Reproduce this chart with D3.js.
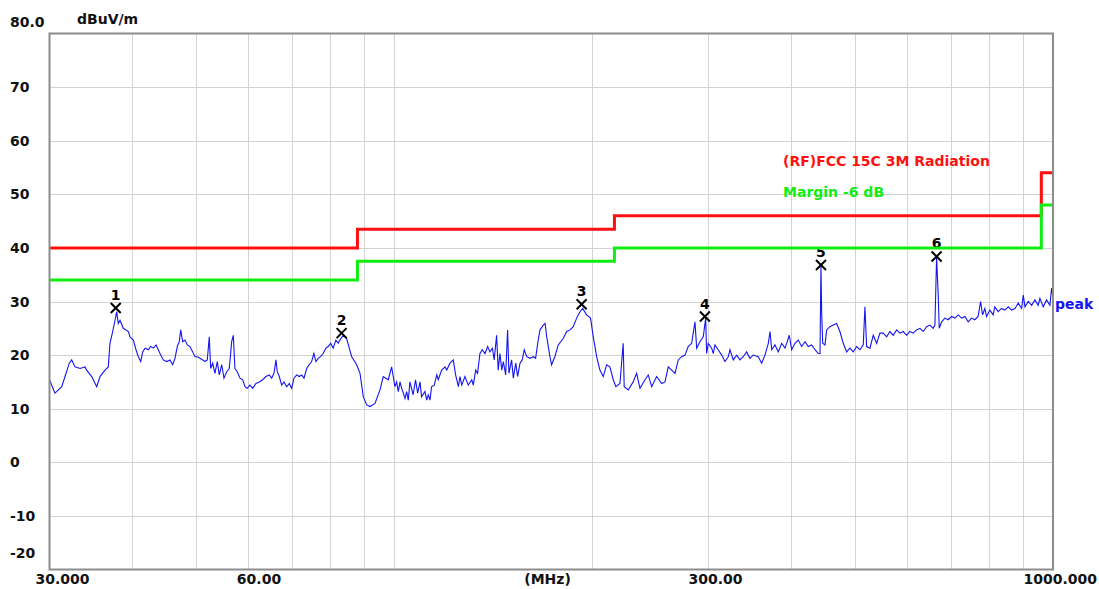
<!DOCTYPE html>
<html>
<head>
<meta charset="utf-8">
<style>
    body { margin: 0; background: #fff; }
    svg text { font-family: "DejaVu Sans", sans-serif; font-weight: bold; font-size: 14px; }
</style>
</head>
<body>
<svg id="chart" width="1099" height="589"></svg>
<script src="https://d3js.org/d3.v7.min.js"></script>
<script>
// peak sweep: frequency (MHz) and level (dBuV/m)
const sweepFreqs = [
    30.00, 30.58, 31.31, 31.67, 32.15, 32.42, 32.80, 33.38, 33.96, 34.16,
    34.77, 35.38, 35.79, 36.42, 36.84, 37.06, 37.41, 37.72, 37.94, 38.15,
    38.38, 38.83, 39.51, 39.75, 40.21, 40.59, 40.92, 41.26, 41.55, 41.89,
    42.38, 42.73, 43.12, 43.53, 43.88, 44.25, 44.65, 45.18, 45.71, 46.14,
    46.51, 46.89, 47.21, 47.45, 47.78, 48.17, 48.56, 49.01, 49.48, 49.88,
    50.28, 50.75, 51.24, 51.65, 52.07, 52.43, 52.69, 53.06, 53.48, 53.92,
    54.30, 54.76, 55.19, 55.72, 56.23, 56.70, 57.02, 57.35, 57.82, 58.37,
    58.92, 59.40, 59.87, 60.44, 61.01, 61.72, 62.44, 63.19, 63.92, 64.66,
    65.21, 65.73, 66.19, 66.49, 66.96, 67.52, 68.07, 68.72, 69.34, 69.93,
    70.49, 71.16, 71.81, 72.41, 73.00, 73.69, 74.34, 74.97, 75.57, 76.10,
    76.72, 77.36, 78.06, 78.81, 79.44, 80.11, 80.84, 81.61, 82.27, 82.76,
    83.72, 84.72, 86.25, 87.76, 88.79, 89.81, 90.88, 91.94, 93.56, 95.21,
    96.30, 97.99, 99.16, 100.3, 100.9, 101.5, 102.1, 102.7, 103.3, 103.9,
    104.5, 105.1, 105.7, 106.3, 106.9, 107.8, 108.6, 109.5, 110.1, 111.4,
    112.1, 112.7, 113.4, 114.0, 115.1, 116.1, 116.7, 118.1, 119.5, 120.2,
    121.6, 123.0, 124.0, 125.2, 125.9, 126.7, 128.1, 129.6, 131.2, 131.9,
    133.0, 133.9, 135.0, 136.1, 137.4, 138.7, 139.8, 141.0, 141.9, 143.1,
    143.9, 144.8, 145.7, 146.5, 147.7, 148.7, 149.4, 150.8, 151.7, 153.0,
    154.0, 155.3, 156.5, 157.6, 159.0, 160.8, 162.7, 164.0, 165.2, 166.5,
    168.5, 169.5, 170.5, 172.4, 173.4, 175.4, 177.5, 180.6, 182.8, 184.9,
    187.0, 189.3, 191.5, 193.3, 196.0, 198.7, 200.6, 203.0, 205.3, 207.7,
    210.2, 212.6, 215.1, 217.1, 220.2, 222.7, 223.5, 226.7, 230.6, 233.4,
    236.2, 240.3, 243.1, 246.0, 250.3, 254.8, 257.7, 260.7, 263.8, 266.9,
    270.0, 273.2, 276.4, 279.5, 282.9, 286.2, 287.9, 291.2, 294.6, 297.1,
    298.1, 299.8, 303.4, 305.1, 306.9, 310.4, 314.2, 317.8, 321.5, 323.4,
    327.2, 331.1, 334.9, 338.8, 342.8, 346.8, 350.9, 357.0, 361.3, 365.5,
    369.8, 372.0, 374.2, 378.5, 382.9, 387.5, 392.0, 395.1, 397.9, 401.3,
    405.9, 410.6, 415.5, 420.4, 425.2, 430.3, 435.3, 440.4, 443.0, 444.5,
    445.6, 447.2, 450.8, 453.4, 458.6, 464.0, 469.5, 474.9, 480.5, 486.2,
    491.9, 497.6, 503.5, 509.4, 515.3, 518.3, 521.4, 527.5, 533.6, 540.0,
    546.2, 552.5, 559.1, 565.6, 572.2, 579.0, 585.7, 592.5, 599.6, 606.5,
    613.6, 620.9, 628.1, 635.4, 643.0, 650.4, 658.0, 661.9, 665.8, 669.6,
    672.0, 677.6, 685.5, 693.4, 701.7, 709.9, 718.1, 726.7, 735.1, 743.6,
    752.3, 761.0, 769.8, 776.3, 781.8, 788.1, 792.8, 802.0, 811.3, 816.1,
    825.5, 835.4, 845.1, 855.3, 865.4, 875.5, 885.7, 896.2, 901.3, 906.7,
    917.1, 928.1, 938.9, 949.6, 955.4, 966.5, 977.9, 989.2, 995.1, 1000
];
const sweepLevels = [
    15.4, 12.9, 14.1, 16.0, 18.5, 19.1, 17.8, 17.5, 17.8, 17.2,
    16.0, 14.1, 16.0, 17.2, 17.8, 22.2, 24.4, 26.5, 28.1, 25.9,
    26.5, 25.0, 24.4, 23.4, 22.8, 21.0, 19.7, 18.8, 20.6, 21.3,
    21.0, 21.6, 21.3, 21.9, 21.0, 20.0, 19.1, 18.8, 19.1, 18.2,
    19.4, 21.6, 22.5, 24.7, 22.5, 22.8, 21.9, 21.6, 20.6, 19.7,
    19.7, 19.4, 19.1, 18.8, 19.1, 23.4, 17.5, 18.5, 16.6, 18.8,
    16.3, 18.2, 15.7, 16.9, 17.5, 22.5, 23.7, 17.5, 16.9, 15.7,
    15.4, 14.1, 13.8, 14.4, 13.8, 14.7, 15.0, 15.4, 16.0, 16.3,
    15.7, 16.6, 19.1, 16.9, 16.0, 14.4, 15.0, 14.1, 14.7, 13.8,
    15.7, 16.3, 16.0, 16.3, 15.7, 17.5, 18.2, 18.8, 20.3, 18.8,
    19.4, 19.7, 20.3, 21.3, 21.6, 22.2, 21.3, 22.8, 22.2, 22.8,
    23.7, 23.1, 19.7, 18.2, 16.6, 12.2, 10.7, 10.4, 11.0, 13.5,
    16.0, 15.4, 17.8, 14.1, 15.0, 13.2, 15.0, 13.8, 12.9, 11.9,
    13.2, 11.6, 15.0, 13.8, 12.6, 15.4, 12.9, 15.0, 12.2, 13.2,
    11.6, 12.6, 11.6, 14.1, 14.4, 16.3, 15.4, 17.2, 17.8, 17.2,
    18.5, 19.1, 16.3, 14.1, 16.0, 14.4, 16.0, 14.4, 15.4, 14.4,
    17.2, 16.6, 20.3, 21.0, 20.3, 21.6, 20.6, 21.3, 19.1, 23.7,
    17.2, 20.3, 17.2, 18.8, 16.3, 24.7, 16.6, 19.1, 15.7, 18.5,
    16.0, 18.5, 19.1, 21.0, 19.7, 19.4, 19.7, 19.4, 22.2, 24.7,
    25.6, 25.9, 23.4, 19.7, 18.2, 19.7, 21.9, 23.1, 24.4, 24.7,
    25.3, 26.9, 28.1, 28.7, 27.5, 26.9, 23.4, 19.7, 17.2, 16.0,
    18.2, 17.8, 15.4, 14.1, 14.7, 22.2, 14.1, 13.5, 15.0, 16.6,
    13.8, 15.4, 16.3, 14.1, 16.0, 14.7, 15.0, 17.8, 17.2, 16.6,
    19.1, 19.7, 20.0, 21.6, 22.2, 26.2, 21.3, 22.5, 23.4, 26.9,
    20.3, 22.2, 21.3, 20.3, 21.9, 21.0, 20.0, 18.8, 19.7, 21.0,
    19.1, 20.0, 19.1, 19.7, 20.6, 19.4, 20.0, 19.7, 18.5, 20.0,
    22.2, 24.4, 21.0, 21.9, 20.6, 22.2, 21.3, 22.5, 23.7, 21.0,
    22.2, 22.8, 21.6, 22.5, 21.6, 21.9, 21.0, 20.3, 20.3, 36.6,
    28.0, 22.2, 21.9, 24.7, 25.3, 25.6, 25.9, 24.4, 22.2, 20.6,
    21.3, 20.6, 21.6, 21.0, 21.9, 29.0, 21.6, 21.3, 23.7, 22.2,
    24.1, 24.1, 23.4, 24.4, 23.7, 24.7, 24.1, 24.4, 23.7, 24.4,
    24.1, 24.7, 25.0, 24.4, 25.3, 25.6, 25.0, 25.6, 38.2, 31.2,
    25.0, 26.2, 26.9, 26.6, 27.2, 26.9, 27.5, 26.9, 27.2, 26.2,
    26.9, 26.6, 27.2, 30.0, 27.5, 28.7, 27.2, 28.4, 27.5, 29.0,
    28.1, 28.7, 28.4, 29.0, 28.4, 28.7, 29.7, 28.7, 31.2, 29.0,
    30.0, 29.3, 30.3, 29.3, 30.6, 29.0, 30.3, 29.3, 32.5, 30.6
];

// FCC 15C 3m limit and the -6 dB margin line (step after each frequency)
const limitFreqs = [30, 88, 216, 960, 1000];
const limitLevels = [40, 43.5, 46, 54, 54];
const marginLevels = [34, 37.5, 40, 48, 48];

// numbered peak markers
const markerFreqs = [37.81, 83.25, 192.6, 296.3, 444.5, 665.8];
const markerLevels = [28.8, 24.1, 29.5, 27.2, 36.8, 38.4];

// axes
const yTicks = [80, 70, 60, 50, 40, 30, 20, 10, 0, -10, -20];
const yTickLabels = ["80.0", "70", "60", "50", "40", "30", "20", "10", "0", "-10", "-20"];
const xGridFreqs = [40, 50, 60, 70, 80, 90, 100, 200, 300, 400, 500, 600, 700, 800, 900];
const xTicks = [30, 60, 300, 1000];
const xTickLabels = ["30.000", "60.00", "300.00", "1000.000"];

let svg = d3.select("#chart");

let x = d3.scaleLog().domain([30, 1000]).range([49.5, 1053]);
let y = d3.scaleLinear().domain([-20, 80]).range([569.5, 33.5]);

// grid
let grid = svg.append("g").attr("shape-rendering", "crispEdges");
grid.selectAll(".vg").data(xGridFreqs).join("line")
    .attr("x1", d => Math.round(x(d)) + 0.5)
    .attr("x2", d => Math.round(x(d)) + 0.5)
    .attr("y1", y(80)).attr("y2", y(-20))
    .attr("stroke", "#d2d2d2");
grid.selectAll(".hg").data(yTicks.slice(1, -1)).join("line")
    .attr("y1", d => Math.round(y(d)) + 0.5)
    .attr("y2", d => Math.round(y(d)) + 0.5)
    .attr("x1", x(30)).attr("x2", x(1000))
    .attr("stroke", "#d2d2d2");

// sweep trace
let trace = sweepFreqs.map((f, i) => [f, sweepLevels[i]]);
svg.append("path")
    .datum(trace)
    .attr("fill", "none")
    .attr("stroke", "#1414f0")
    .attr("stroke-width", 1.1)
    .attr("d", d3.line().x(d => x(d[0])).y(d => y(d[1])));

svg.append("text")
    .attr("x", x(1000) + 2).attr("y", y(30) + 7)
    .attr("fill", "#1414f0")
    .text("peak");

// markers, drawn below the limit lines
let markers = svg.append("g");
markerFreqs.forEach((f, i) => {
    let cx = x(f), cy = y(markerLevels[i]);
    markers.append("path")
        .attr("d", `M${cx - 5},${cy - 5}L${cx + 5},${cy + 5}M${cx + 5},${cy - 5}L${cx - 5},${cy + 5}`)
        .attr("stroke", "#000")
        .attr("stroke-width", 2);
    markers.append("text")
        .attr("x", cx).attr("y", cy - 8)
        .attr("text-anchor", "middle")
        .attr("font-size", "13px")
        .text(i + 1);
});

// limit lines
let stepLine = levels => d3.line().curve(d3.curveStepAfter)
    .x(d => x(d))
    .y((d, i) => y(levels[i]));
svg.append("path")
    .datum(limitFreqs)
    .attr("fill", "none").attr("stroke", "#ff1010").attr("stroke-width", 3)
    .attr("d", stepLine(limitLevels));
svg.append("path")
    .datum(limitFreqs)
    .attr("fill", "none").attr("stroke", "#10ee10").attr("stroke-width", 3)
    .attr("d", stepLine(marginLevels));

// frame
svg.append("rect")
    .attr("x", x(30)).attr("y", y(80))
    .attr("width", x(1000) - x(30)).attr("height", y(-20) - y(80))
    .attr("fill", "none").attr("stroke", "#8c8c8c").attr("stroke-width", 2);

// y labels (end labels sit inside the frame edges)
svg.append("g").selectAll("text").data(yTicks).join("text")
    .attr("x", 10)
    .attr("y", d => y(d) + (d === 80 ? -7 : d === -20 ? -12 : 5))
    .attr("fill", "#111")
    .text((d, i) => yTickLabels[i]);

svg.append("text").attr("x", 77).attr("y", 24).attr("fill", "#111").text("dBuV/m");

// x labels
svg.append("g").selectAll("text").data(xTicks).join("text")
    .attr("x", (d, i) => i === 3 ? x(d) + 44 : x(d) + [-14, -11, -20][i])
    .attr("y", 584)
    .attr("text-anchor", (d, i) => i === 3 ? "end" : "start")
    .attr("fill", "#111")
    .text((d, i) => xTickLabels[i]);
svg.append("text").attr("x", x(171)).attr("y", 584)
    .attr("text-anchor", "middle").attr("fill", "#111").text("(MHz)");

// legend
svg.append("text").attr("x", 783).attr("y", 166).attr("fill", "#ff1010")
    .text("(RF)FCC 15C 3M Radiation");
svg.append("text").attr("x", 783).attr("y", 197).attr("fill", "#10ee10")
    .text("Margin -6 dB");
</script>
</body>
</html>
